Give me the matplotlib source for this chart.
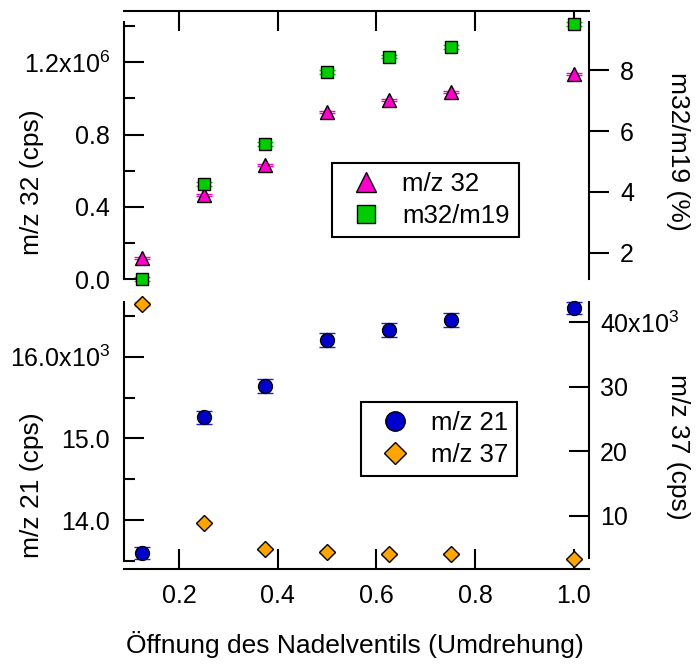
import numpy as np
import matplotlib
matplotlib.use('Agg')
import matplotlib.pyplot as plt

# fonts: Arial-like look
plt.rcParams['font.family'] = ['Liberation Sans', 'DejaVu Sans']
plt.rcParams['mathtext.fontset'] = 'custom'
plt.rcParams['mathtext.rm'] = 'Liberation Sans'
plt.rcParams['mathtext.default'] = 'regular'
fs = 19     # axis labels
tfs = 18    # tick labels
lfs = 18.5  # legend text

# data: valve opening (turns)
x = [0.125, 0.25, 0.375, 0.5, 0.625, 0.75, 1.0]

# top panel
mz32 = [0.118e6, 0.465e6, 0.630e6, 0.926e6, 0.993e6, 1.035e6, 1.135e6]
mz32_err = [0.006e6, 0.006e6, 0.006e6, 0.006e6, 0.006e6, 0.006e6, 0.006e6]
ratio = [1.14, 4.25, 5.57, 7.95, 8.45, 8.76, 9.52]
ratio_err = [0.06, 0.06, 0.06, 0.06, 0.06, 0.06, 0.06]

# bottom panel
mz21 = [13594, 15258, 15645, 16204, 16327, 16449, 16600]
mz21_err = [72, 82, 84, 86, 86, 88, 75]
mz37 = [42840, 8920, 4790, 4370, 4060, 4060, 3290]
mz37_err = [250, 100, 100, 100, 100, 100, 100]

W, H = 700, 666
fig = plt.figure(figsize=(7.0, 6.66), dpi=100)

# axes positions in pixels (left, top, right, bottom)
L, R = 124, 589
ax1 = fig.add_axes([L / W, (H - 279) / H, (R - L) / W, 268 / H])
ax1r = ax1.twinx()
ax2 = fig.add_axes([L / W, (H - 569) / H, (R - L) / W, 267 / H])
ax2r = ax2.twinx()

xlim = (0.0886, 1.0304)
for a in (ax1, ax1r, ax2, ax2r):
    a.set_xlim(xlim)
    a.set_facecolor('none')
    for s in a.spines.values():
        s.set_visible(False)
        s.set_linewidth(1.5)

lw = 1.5
maj = 14.4
mnr = 8

# ---- top panel ----
ax1.errorbar(x, mz32, yerr=mz32_err, fmt='^', ms=10, mfc='#FF00CC', mec='black',
             mew=1, ecolor='#FF00CC', elinewidth=1.5, capsize=6, capthick=2,
             clip_on=False, zorder=3, label='m/z 32')
ax1r.errorbar(x, ratio, yerr=ratio_err, fmt='s', ms=9, mfc='#00CC00', mec='black',
              mew=1, ecolor='#00CC00', elinewidth=1.5, capsize=6, capthick=2,
              clip_on=False, zorder=3, label='m32/m19')

ax1.set_ylim(0, 1.484e6)
ax1.spines['left'].set_visible(True)
ax1.spines['left'].set_bounds(0, 1.423e6)
ax1.spines['top'].set_visible(True)
ax1.set_yticks([0, 0.4e6, 0.8e6, 1.2e6])
ax1.set_yticklabels(['0.0', '0.4', '0.8', '1.2x10$^{6}$'])
ax1.set_yticks([0.2e6, 0.6e6, 1.0e6, 1.4e6], minor=True)
ax1.tick_params(axis='y', which='major', direction='in', length=maj, width=lw,
                labelsize=tfs, pad=10)
ax1.tick_params(axis='y', which='minor', direction='in', length=mnr, width=lw)
ax1.xaxis.set_ticks_position('top')
ax1.set_xticks([0.2, 0.4, 0.6, 0.8, 1.0])
ax1.tick_params(axis='x', direction='in', length=maj, width=lw, labeltop=False,
                labelbottom=False)

ax1r.set_ylim(1.135, 9.95)
ax1r.spines['right'].set_visible(True)
ax1r.spines['right'].set_bounds(1.135, 9.59)
ax1r.set_yticks([2, 4, 6, 8])
ax1r.set_yticklabels(['2', '4', '6', '8'])
ax1r.tick_params(axis='y', direction='out', length=maj, width=lw, labelsize=tfs,
                 pad=8)
ax1r.tick_params(axis='x', bottom=False, top=False, labelbottom=False)

# ---- bottom panel ----
ax2.errorbar(x, mz21, yerr=mz21_err, fmt='o', ms=10, mfc='#0000CC', mec='black',
             mew=1, ecolor='#1A1AF0', elinewidth=1.8, capsize=6, capthick=2.5,
             clip_on=False, zorder=3, label='m/z 21')
ax2r.errorbar(x, mz37, yerr=mz37_err, fmt='D', ms=8, mfc='#FFA500', mec='black',
              mew=1, ecolor='#FFA500', elinewidth=1.5, capsize=6, capthick=2,
              clip_on=False, zorder=3, label='m/z 37')

ax2.set_ylim(13400, 16670)
ax2.spines['left'].set_visible(True)
ax2.spines['left'].set_bounds(13500, 16670)
ax2.spines['bottom'].set_visible(True)
ax2.set_yticks([14000, 15000, 16000])
ax2.set_yticklabels(['14.0', '15.0', '16.0x10$^{3}$'])
ax2.set_yticks([13500, 14500, 15500, 16500], minor=True)
ax2.tick_params(axis='y', which='major', direction='in', length=maj, width=lw,
                labelsize=tfs, pad=10)
ax2.tick_params(axis='y', which='minor', direction='in', length=mnr, width=lw)
ax2.set_xticks([0.2, 0.4, 0.6, 0.8, 1.0])
ax2.set_xticklabels(['0.2', '0.4', '0.6', '0.8', '1.0'])
ax2.tick_params(axis='x', direction='in', length=maj, width=lw, labelsize=tfs,
                pad=11)

ax2r.set_ylim(1730, 43150)
ax2r.spines['right'].set_visible(True)
ax2r.spines['right'].set_bounds(3440, 43150)
ax2r.set_yticks([10000, 20000, 30000, 40000])
ax2r.set_yticklabels(['10', '20', '30', '40x10$^{3}$'])
ax2r.tick_params(axis='y', direction='in', length=maj, width=lw, labelsize=tfs,
                 pad=8)
ax2r.tick_params(axis='x', bottom=False, top=False, labelbottom=False)

# axis labels
fig.text(32 / W, 1 - 182 / H, 'm/z 32 (cps)', rotation=90, ha='center',
         va='center', fontsize=fs)
fig.text(32 / W, 1 - 485 / H, 'm/z 21 (cps)', rotation=90, ha='center',
         va='center', fontsize=fs)
fig.text(678 / W, 1 - 151 / H, 'm32/m19 (%)', rotation=-90, ha='center',
         va='center', fontsize=fs)
fig.text(678 / W, 1 - 447 / H, 'm/z 37 (cps)', rotation=-90, ha='center',
         va='center', fontsize=fs)
fig.text(355 / W, 1 - 645 / H, 'Öffnung des Nadelventils (Umdrehung)',
         ha='center', va='center', fontsize=fs)

# legends
legkw = dict(loc='upper left', fontsize=lfs, frameon=True, fancybox=False,
             edgecolor='black', framealpha=1, markerscale=1.4,
             handlelength=1.95, handletextpad=0.43, borderpad=0.35,
             labelspacing=0.3, borderaxespad=0)

h1, l1 = ax1.get_legend_handles_labels()
h2, l2 = ax1r.get_legend_handles_labels()
leg = fig.legend([h[0] for h in h1 + h2], l1 + l2,
                 bbox_to_anchor=(332 / W, 1 - 163 / H), **legkw)
leg.get_frame().set_linewidth(1.5)

h3, l3 = ax2.get_legend_handles_labels()
h4, l4 = ax2r.get_legend_handles_labels()
leg2 = fig.legend([h[0] for h in h3 + h4], l3 + l4,
                  bbox_to_anchor=(361 / W, 1 - 402 / H), **legkw)
leg2.get_frame().set_linewidth(1.5)

fig.savefig('out.png', dpi=100)
